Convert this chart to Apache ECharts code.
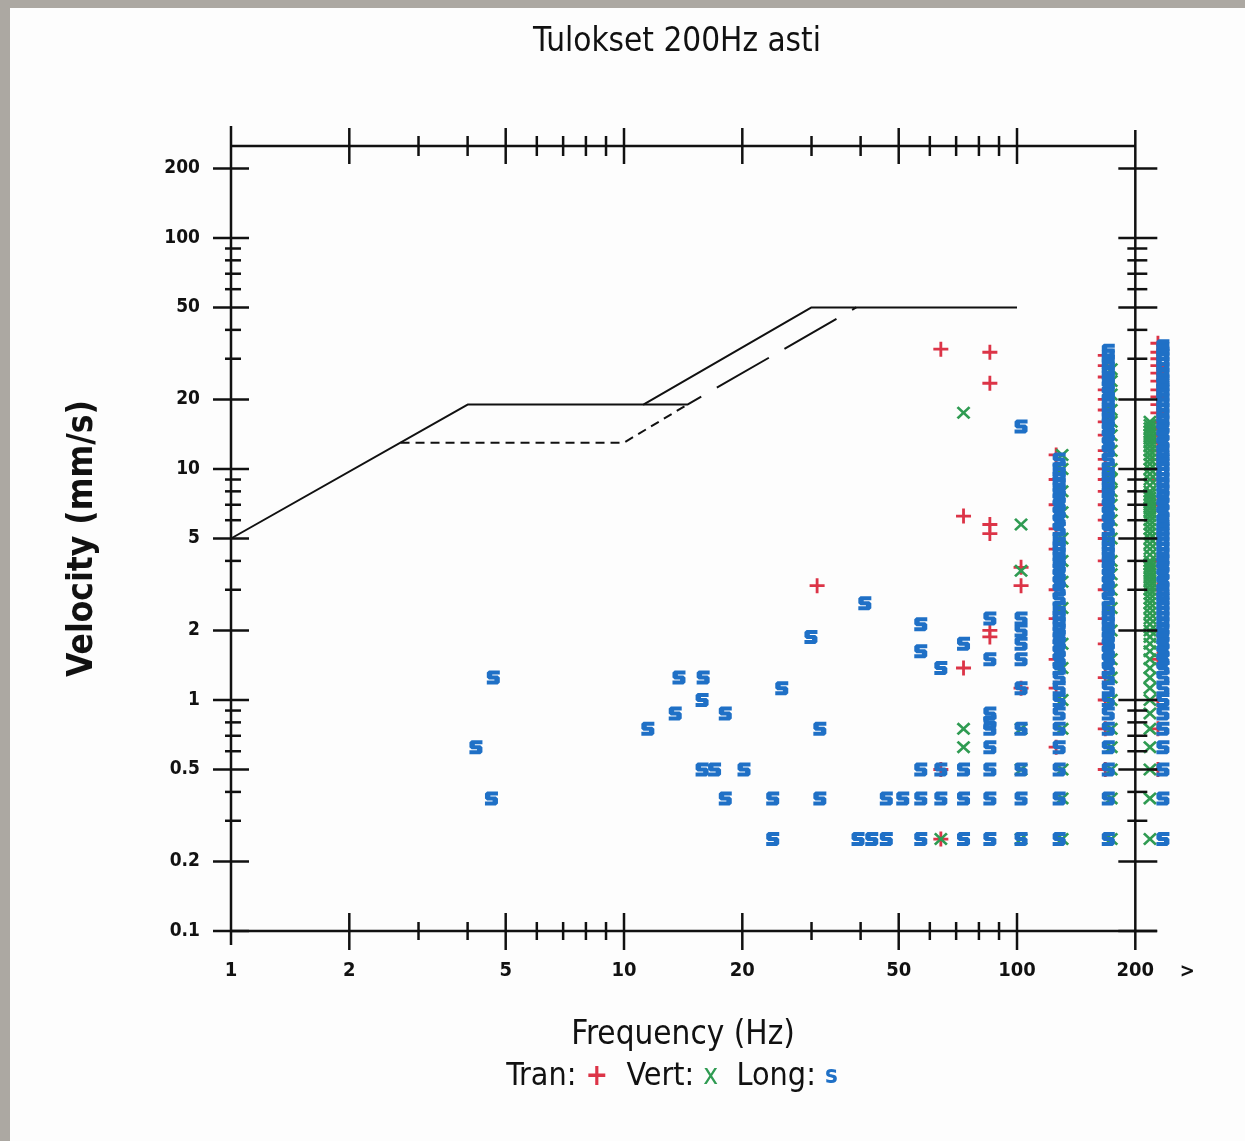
<!DOCTYPE html>
<html><head><meta charset="utf-8">
<script src="https://cdn.jsdelivr.net/npm/echarts@6/dist/echarts.min.js"></script>
<style>
html,body{margin:0;padding:0;}
body{width:1245px;height:1141px;overflow:hidden;background:
 linear-gradient(to right,#aca8a2 0,#aca8a2 10px,transparent 10px),
 linear-gradient(to bottom,#aca8a2 0,#aca8a2 8px,#fdfdfd 8px);}
#c{width:1245px;height:1141px;}
</style></head><body><div id="c"></div>
<script>
// ---------- axis ticks ----------
const xMajor = [1, 2, 5, 10, 20, 50, 100, 200];
const xMinor = [3, 4, 6, 7, 8, 9, 30, 40, 60, 70, 80, 90];
const yMajor = [0.1, 0.2, 0.5, 1, 2, 5, 10, 20, 50, 100, 200];
const yMinor = [0.3, 0.4, 0.6, 0.7, 0.8, 0.9, 3, 4, 6, 7, 8, 9, 30, 40, 60, 70, 80, 90];

// ---------- limit curves [Hz, mm/s] ----------
const limitSolid = [[1, 5], [4, 19], [11.2, 19], [30, 50], [100, 50]];
const limitLongDash = [[11.2, 19], [14.5, 19], [39, 50]];
const limitDash = [[2.7, 13], [10, 13], [14.5, 19]];

// ---------- isolated events [Hz, mm/s] ----------
const tranPts = [[31, 3.125], [64, 33], [85.3, 32], [85.3, 23.5], [73.1, 6.25], [85.3, 5.75], [85.3, 5.25],
  [102.4, 3.75], [102.4, 3.125], [73.1, 1.375], [85.3, 1.875], [85.3, 2.0], [102.4, 1.125], [64, 0.5], [64, 0.25]];
const vertPts = [[73.1, 17.5], [102.4, 5.75], [102.4, 3.625], [73.1, 0.75], [73.1, 0.625], [64, 0.25],
  [102.4, 0.75], [102.4, 0.5], [102.4, 0.25]];
const longPts = [
  [4.2, 0.625], [4.65, 1.25], [4.6, 0.375],
  [11.5, 0.75], [13.8, 1.25], [15.9, 1.25], [13.5, 0.875], [15.8, 1.0], [18.1, 0.875],
  [15.8, 0.5], [17.0, 0.5], [20.2, 0.5], [18.1, 0.375], [23.9, 0.375], [31.5, 0.375], [23.9, 0.25],
  [25.2, 1.125], [29.9, 1.875], [31.5, 0.75], [41.0, 2.625],
  [39.4, 0.25], [42.7, 0.25], [46.5, 0.25], [56.9, 0.25], [73.1, 0.25], [85.3, 0.25], [102.4, 0.25],
  [46.5, 0.375], [51.2, 0.375], [56.9, 0.375], [64.0, 0.375], [73.1, 0.375], [85.3, 0.375], [102.4, 0.375],
  [56.9, 0.5], [64.0, 0.5], [73.1, 0.5], [85.3, 0.5], [102.4, 0.5],
  [85.3, 0.625], [85.3, 0.75], [85.3, 0.8], [85.3, 0.875], [102.4, 0.75], [102.4, 1.125],
  [56.9, 1.625], [56.9, 2.125], [64.0, 1.375], [73.1, 1.75], [85.3, 1.5], [85.3, 2.25],
  [102.4, 1.5], [102.4, 1.75], [102.4, 2.0], [102.4, 2.25], [102.4, 15.25]
];

// ---------- dense frequency bins (velocities, mm/s) ----------
const freq128 = 128;
const freq171 = 170.7;
const freqOver = 227;   // ">" bin (above 200 Hz)
const col128Long = [0.25, 0.375, 0.5, 0.625, 0.75, 0.875, 1, 1.125, 1.25, 1.375, 1.5, 1.625, 1.75, 1.875, 2, 2.125, 2.25, 2.375, 2.5, 2.75, 3, 3.25, 3.5, 3.75, 4, 4.25, 4.5, 4.75, 5, 5.5, 6, 6.5, 7, 7.5, 8, 8.5, 9, 9.5, 10, 11];
const col128Vert = [0.25, 0.375, 0.5, 0.75, 1.0, 1.375, 1.75, 2.5, 3.25, 4, 5, 6.5, 8, 10, 11.5];
const col128Tran = [0.625, 1.125, 1.5, 2.25, 3, 4.5, 5.5, 7, 9, 11.5];
const col171Long = [0.25, 0.375, 0.5, 0.625, 0.75, 0.875, 1, 1.125, 1.25, 1.375, 1.5, 1.625, 1.75, 1.875, 2, 2.125, 2.25, 2.375, 2.5, 2.75, 3, 3.25, 3.5, 3.75, 4, 4.25, 4.5, 4.75, 5, 5.5, 6, 6.5, 7, 7.5, 8, 8.5, 9, 9.5, 10, 11, 12, 13, 14, 15, 16, 17, 18, 19, 20, 21.5, 23, 24.5, 26, 27.5, 29, 31, 32.5];
const col171Vert = [0.25, 0.375, 0.5, 0.625, 0.75, 1, 1.25, 1.5, 2, 2.5, 3, 3.5, 4, 5, 6, 7, 8, 9, 10, 12, 14, 16, 18, 21, 24, 27];
const col171Tran = [0.5, 0.75, 1, 1.25, 1.75, 2.25, 3, 4, 5, 6, 7, 8, 9, 10, 11, 12, 14, 16, 18, 20, 22, 25, 28, 31];
const colOverLong = [0.25, 0.375, 0.5, 0.625, 0.75, 0.875, 1, 1.125, 1.25, 1.375, 1.5, 1.625, 1.75, 1.875, 2, 2.125, 2.25, 2.375, 2.5, 2.625, 2.75, 2.875, 3, 3.25, 3.5, 3.75, 4, 4.25, 4.5, 4.75, 5, 5.25, 5.5, 5.75, 6, 6.5, 7, 7.5, 8, 8.5, 9, 9.5, 10, 10.5, 11, 11.5, 12, 13, 14, 15, 16, 17, 18, 19, 20, 21, 22, 23, 24, 25.5, 27, 28.5, 30, 31.5, 33, 34];
const colOverVert = [0.25, 0.375, 0.5, 0.625, 0.75, 0.875, 1, 1.125, 1.25, 1.375, 1.5, 1.625, 1.75, 1.875, 2, 2.125, 2.25, 2.375, 2.5, 2.625, 2.75, 2.875, 3, 3.125, 3.25, 3.375, 3.5, 3.625, 3.75, 3.875, 4, 4.25, 4.5, 4.75, 5, 5.25, 5.5, 5.75, 6, 6.25, 6.5, 6.75, 7, 7.25, 7.5, 7.75, 8, 8.5, 9, 9.5, 10, 10.5, 11, 11.5, 12, 12.5, 13, 13.5, 14, 14.5, 15, 15.5, 16];
const colOverTran = [0.5, 0.75, 1, 1.5, 2, 3, 4, 5, 7, 9, 10, 11, 12, 13, 14, 15, 16, 17.5, 19, 20.5, 22, 24, 26, 28, 30, 32, 35];

// ---------- styling ----------
const FONT = "'DejaVu Sans Condensed','DejaVu Sans',sans-serif";
const RED = '#dc3447', GREEN = '#2f9b52', BLUE = '#1f70c6';
const SYM_PLUS = 'path://M6.5,0H9.5V6.5H16V9.5H9.5V16H6.5V9.5H0V6.5H6.5Z';
const SYM_X = 'path://M0,2.2L2.2,0L8,5.8L13.8,0L16,2.2L10.2,8L16,13.8L13.8,16L8,10.2L2.2,16L0,13.8L5.8,8Z';
const SYM_S = 'path://M2,0H12V4H5V5H10L12,7V12L10,14H0V10H7V9H2L0,7V2Z';
const X_MIN = 1, X_MAX = 250, Y_MIN = 0.1, Y_MAX = 250;
const X_LINE_END = 227, X_RIGHT_LINE = 200, GT_LABEL_AT = 271;

const at = (f, arr) => arr.map(v => [f, v]);

function renderFrame(params, api) {
  const P = (x, y) => api.coord([x, y]);
  const xl = P(X_MIN, Y_MIN)[0], yb = P(X_MIN, Y_MIN)[1];
  const xr = P(X_RIGHT_LINE, Y_MAX)[0], yt = P(X_RIGHT_LINE, Y_MAX)[1];
  const xe = P(X_LINE_END, Y_MIN)[0];
  const ch = [];
  const L = (x1, y1, x2, y2, w) => ch.push({ type: 'line', shape: { x1, y1, x2, y2 }, style: { stroke: '#111', lineWidth: w || 2.5 } });
  L(xl, yb, xe, yb); L(xl, yt, xr, yt);
  L(xl, yt - 20, xl, yb + 14); L(xr, yt - 16, xr, yb + 19);
  xMajor.forEach(v => {
    if (v === X_MIN || v === X_RIGHT_LINE) return;
    const x = P(v, Y_MIN)[0];
    L(x, yb - 18, x, yb + 19); L(x, yt - 18, x, yt + 18);
  });
  xMinor.forEach(v => {
    const x = P(v, Y_MIN)[0];
    L(x, yb - 9, x, yb + 9); L(x, yt - 10, x, yt + 10);
  });
  yMajor.forEach(v => {
    const y = P(X_MIN, v)[1];
    L(xl - 18, y, xl + 18, y); L(xr - 17, y, xr + 22, y);
  });
  yMinor.forEach(v => {
    const y = P(X_MIN, v)[1];
    L(xl - 6, y, xl + 10, y); L(xr - 8, y, xr + 12, y);
  });
  const g = P(GT_LABEL_AT, Y_MIN);
  ch.push({ type: 'text', x: g[0], y: g[1] + 41, style: { text: '>', font: "bold 20px " + FONT, fill: '#111', align: 'center', verticalAlign: 'middle' } });
  return { type: 'group', children: ch };
}

const chart = echarts.init(document.getElementById('c'), null, { renderer: 'canvas' });
const scat = (name, data, sym, size, color, offset, z) => ({
  name, type: 'scatter', data, symbol: sym, symbolSize: size, symbolOffset: offset || [0, 0],
  itemStyle: { color, opacity: 1 }, clip: false, z: z || 3, silent: true, animation: false
});
const lineS = (name, data, type) => ({
  name, type: 'line', data, showSymbol: false, symbol: 'none', silent: true, animation: false,
  lineStyle: { color: '#111', width: 2, type: type }, z: 2
});

chart.setOption({
  backgroundColor: 'transparent',
  animation: false,
  grid: { left: 231, top: 146, width: 942.4, height: 785 },
  xAxis: {
    type: 'log', logBase: 10, min: X_MIN, max: X_MAX,
    axisLine: { show: false }, axisTick: { show: false }, splitLine: { show: false }, minorTick: { show: false },
    axisLabel: { customValues: xMajor, margin: 30, color: '#111', fontFamily: FONT, fontWeight: 'bold', fontSize: 20,
      formatter: v => String(v) }
  },
  yAxis: {
    type: 'log', logBase: 10, min: Y_MIN, max: Y_MAX,
    name: 'Velocity (mm/s)', nameLocation: 'middle', nameGap: 131, nameRotate: 90,
    nameTextStyle: { fontFamily: FONT, fontWeight: 'bold', fontSize: 35, color: '#111' },
    axisLine: { show: false }, axisTick: { show: false }, splitLine: { show: false }, minorTick: { show: false },
    axisLabel: { customValues: yMajor, margin: 31, color: '#111', fontFamily: FONT, fontWeight: 'bold', fontSize: 19,
      formatter: v => String(v) }
  },
  graphic: [
    { type: 'text', x: 677, y: 42, style: { text: 'Tulokset 200Hz asti', font: "33px " + FONT, fill: '#111', align: 'center', verticalAlign: 'middle' } },
    { type: 'text', x: 683, y: 1035, style: { text: 'Frequency (Hz)', font: "33px " + FONT, fill: '#111', align: 'center', verticalAlign: 'middle' } },
    { type: 'text', x: 672, y: 1077, style: {
      text: '{a|Tran: }{r|+}{a|  Vert: }{g|x}{a|  Long: }{b|s}', align: 'center', verticalAlign: 'middle',
      rich: {
        a: { font: "32px " + FONT, fill: '#111' },
        r: { font: "bold 30px " + FONT, fill: RED },
        g: { font: "28px " + FONT, fill: GREEN },
        b: { font: "bold 24px " + FONT, fill: BLUE }
      } } }
  ],
  series: [
    lineS('limit', limitSolid, 'solid'),
    lineS('limit2', limitLongDash, [60, 18]),
    lineS('limit3', limitDash, [9, 6]),
    scat('Tran', tranPts, SYM_PLUS, [15, 15], RED),
    scat('Vert', vertPts, SYM_X, [14, 13], GREEN),
    scat('Long', longPts, SYM_S, [13, 14], BLUE),
    scat('Tran bins', at(freq128, col128Tran).concat(at(freq171, col171Tran)), SYM_PLUS, [15, 15], RED, [-3, 0]),
    scat('Vert bins', at(freq128, col128Vert).concat(at(freq171, col171Vert)), SYM_X, [14, 13], GREEN, [3, 0]),
    scat('Long bins', at(freq128, col128Long).concat(at(freq171, col171Long)), SYM_S, [13, 14], BLUE, [0, 0], 4),
    scat('Tran >200', at(freqOver, colOverTran), SYM_PLUS, [15, 15], RED, [1, 0]),
    scat('Vert >200', at(freqOver, colOverVert), SYM_X, [14, 13], GREEN, [-7, 0]),
    scat('Long >200', at(freqOver, colOverLong), SYM_S, [13, 14], BLUE, [6, 0], 4),
    { type: 'custom', name: 'frame', data: [[X_MIN, Y_MIN]], renderItem: renderFrame, silent: true, clip: false, z: 5, animation: false }
  ]
});
</script></body></html>
